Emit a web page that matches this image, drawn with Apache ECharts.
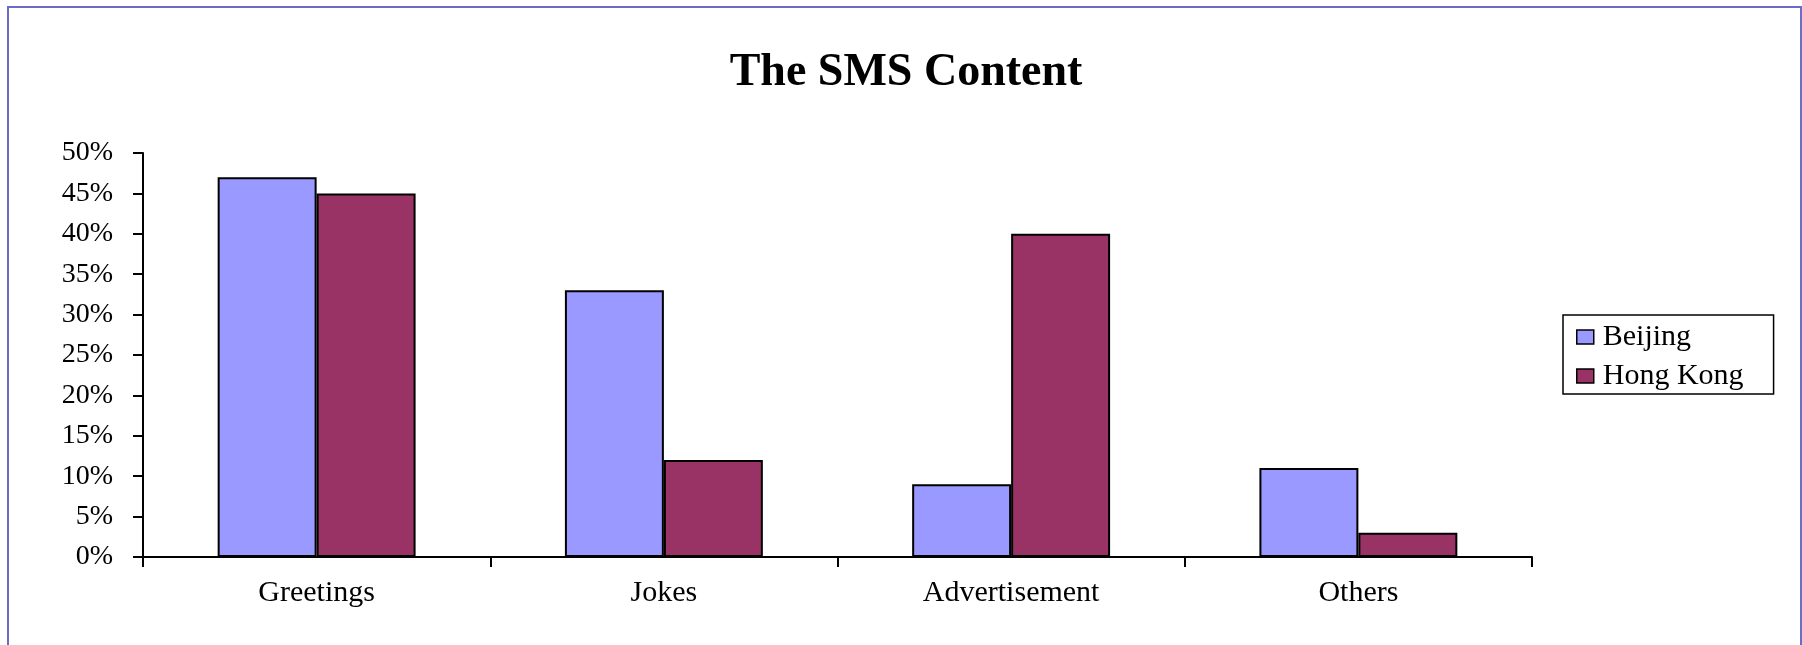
<!DOCTYPE html>
<html>
<head>
<meta charset="utf-8">
<title>The SMS Content</title>
<script src="https://cdn.jsdelivr.net/npm/echarts@6/dist/echarts.min.js"></script>
<style>
  html, body { margin: 0; padding: 0; background: #ffffff; }
  #chart { width: 1802px; height: 645px; }
</style>
</head>
<body>
<div id="chart"></div>
<script>
// SMS content share by city (percent)
const categories = ['Greetings', 'Jokes', 'Advertisement', 'Others'];
const beijing = [47, 33, 9, 11];
const hongKong = [45, 12, 40, 3];
const seriesNames = ['Beijing', 'Hong Kong'];
const yTicks = { min: 0, max: 50, interval: 5 };

const serif = "'Liberation Serif', 'Times New Roman', serif";

const chart = echarts.init(document.getElementById('chart'), null, { renderer: 'canvas' });

const barStyle = (color) => ({
  color: color,
  borderColor: '#000000',
  borderWidth: 2
});

chart.setOption({
  animation: false,
  backgroundColor: '#ffffff',
  graphic: [{
    type: 'rect',
    shape: { x: 8, y: 7, width: 1793, height: 700 },
    style: { fill: 'none', stroke: '#6c6cc4', lineWidth: 2 },
    silent: true
  }],
  title: {
    text: 'The SMS Content',
    left: 901,
    textAlign: 'center',
    top: 45,
    textStyle: {
      fontFamily: serif,
      fontWeight: 'bold',
      fontSize: 46,
      color: '#000000'
    }
  },
  legend: {
    orient: 'vertical',
    left: 1563,
    top: 315,
    padding: [7, 30, 3, 13],
    itemGap: 9,
    itemWidth: 17,
    itemHeight: 14,
    borderColor: '#000000',
    borderWidth: 1.5,
    icon: 'rect',
    textStyle: { fontFamily: serif, fontSize: 30, color: '#000000', padding: [0, 0, 0, 4] },
    itemStyle: { borderColor: '#000000', borderWidth: 1.5 },
    data: seriesNames
  },
  grid: {
    left: 143,
    right: 270,
    top: 153,
    bottom: 88,
    containLabel: false
  },
  xAxis: {
    type: 'category',
    data: categories,
    axisLine: { lineStyle: { color: '#000000', width: 2 } },
    axisTick: { show: true, length: 10, lineStyle: { color: '#000000', width: 2 } },
    axisLabel: { fontFamily: serif, fontSize: 30, color: '#000000', margin: 21 },
    splitLine: { show: false }
  },
  yAxis: {
    type: 'value',
    min: yTicks.min,
    max: yTicks.max,
    interval: yTicks.interval,
    axisLine: { show: true, lineStyle: { color: '#000000', width: 2 } },
    axisTick: { show: true, length: 10, lineStyle: { color: '#000000', width: 2 } },
    axisLabel: {
      fontFamily: serif,
      fontSize: 28,
      color: '#000000',
      margin: 30,
      formatter: (v) => v + '%'
    },
    splitLine: { show: false }
  },
  series: [
    {
      name: seriesNames[0],
      type: 'bar',
      data: beijing,
      barGap: '0%',
      barCategoryGap: '43%',
      itemStyle: barStyle('#9999ff'),
      emphasis: { disabled: true }
    },
    {
      name: seriesNames[1],
      type: 'bar',
      data: hongKong,
      barGap: '0%',
      barCategoryGap: '43%',
      itemStyle: barStyle('#993366'),
      emphasis: { disabled: true }
    }
  ]
});
</script>
</body>
</html>
